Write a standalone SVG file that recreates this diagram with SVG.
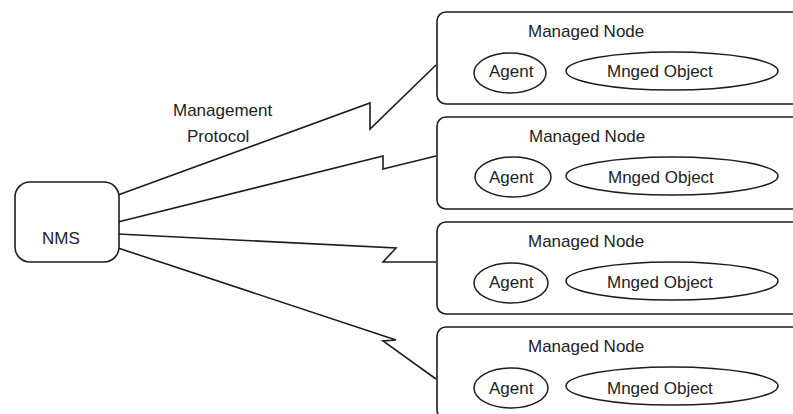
<svg xmlns="http://www.w3.org/2000/svg" width="793" height="414" viewBox="0 0 793 414">
  <style>
    .box { fill: #ffffff; stroke: #1c1c1c; stroke-width: 1.6; }
    .oval { fill: none; stroke: #1c1c1c; stroke-width: 1.5; }
    .link { fill: none; stroke: #1c1c1c; stroke-width: 1.6; stroke-linejoin: miter; }
    .lbl { font-family: "Liberation Sans", Arial, sans-serif; font-size: 17px; fill: #222222; }
  </style>
  <rect width="793" height="414" fill="#ffffff"/>

  <!-- management protocol links (zig-zag) -->
  <g id="connectors">
    <polyline class="link" points="118,195 370,103 370,129 436,65"/>
    <polyline class="link" points="118,222 383,156 383,169 436,156"/>
    <polyline class="link" points="118,234 396,248 383,262 436,262"/>
    <polyline class="link" points="118,248 396,340 383,341 436,379"/>
    <text class="lbl" x="173" y="116">Management</text>
    <text class="lbl" x="187" y="142">Protocol</text>
  </g>

  <g id="nms">
    <rect class="box" x="15" y="182" width="104" height="80" rx="15" ry="15"/>
    <text class="lbl" x="42" y="244">NMS</text>
  </g>

  <g id="node1">
    <rect class="box" x="437" y="12" width="380" height="92" rx="9" ry="9"/>
    <text class="lbl" x="528" y="37">Managed Node</text>
    <ellipse class="oval" cx="510" cy="73" rx="36" ry="20"/>
    <text class="lbl" x="489" y="77">Agent</text>
    <ellipse class="oval" cx="672" cy="71" rx="106" ry="19"/>
    <text class="lbl" x="607" y="77">Mnged Object</text>
  </g>

  <g id="node2">
    <rect class="box" x="437" y="117" width="380" height="92" rx="9" ry="9"/>
    <text class="lbl" x="529" y="142">Managed Node</text>
    <ellipse class="oval" cx="513" cy="177" rx="38" ry="20"/>
    <text class="lbl" x="489" y="183">Agent</text>
    <ellipse class="oval" cx="672" cy="176" rx="106" ry="19"/>
    <text class="lbl" x="608" y="183">Mnged Object</text>
  </g>

  <g id="node3">
    <rect class="box" x="437" y="222" width="380" height="92" rx="9" ry="9"/>
    <text class="lbl" x="528" y="247">Managed Node</text>
    <ellipse class="oval" cx="511" cy="283" rx="37" ry="20"/>
    <text class="lbl" x="489" y="288">Agent</text>
    <ellipse class="oval" cx="672" cy="281" rx="106" ry="19"/>
    <text class="lbl" x="607" y="288">Mnged Object</text>
  </g>

  <g id="node4">
    <rect class="box" x="437" y="327" width="380" height="92" rx="9" ry="9"/>
    <text class="lbl" x="528" y="352">Managed Node</text>
    <ellipse class="oval" cx="511" cy="388" rx="37" ry="20"/>
    <text class="lbl" x="489" y="394">Agent</text>
    <ellipse class="oval" cx="672" cy="386" rx="106" ry="19"/>
    <text class="lbl" x="607" y="394">Mnged Object</text>
  </g>
</svg>
